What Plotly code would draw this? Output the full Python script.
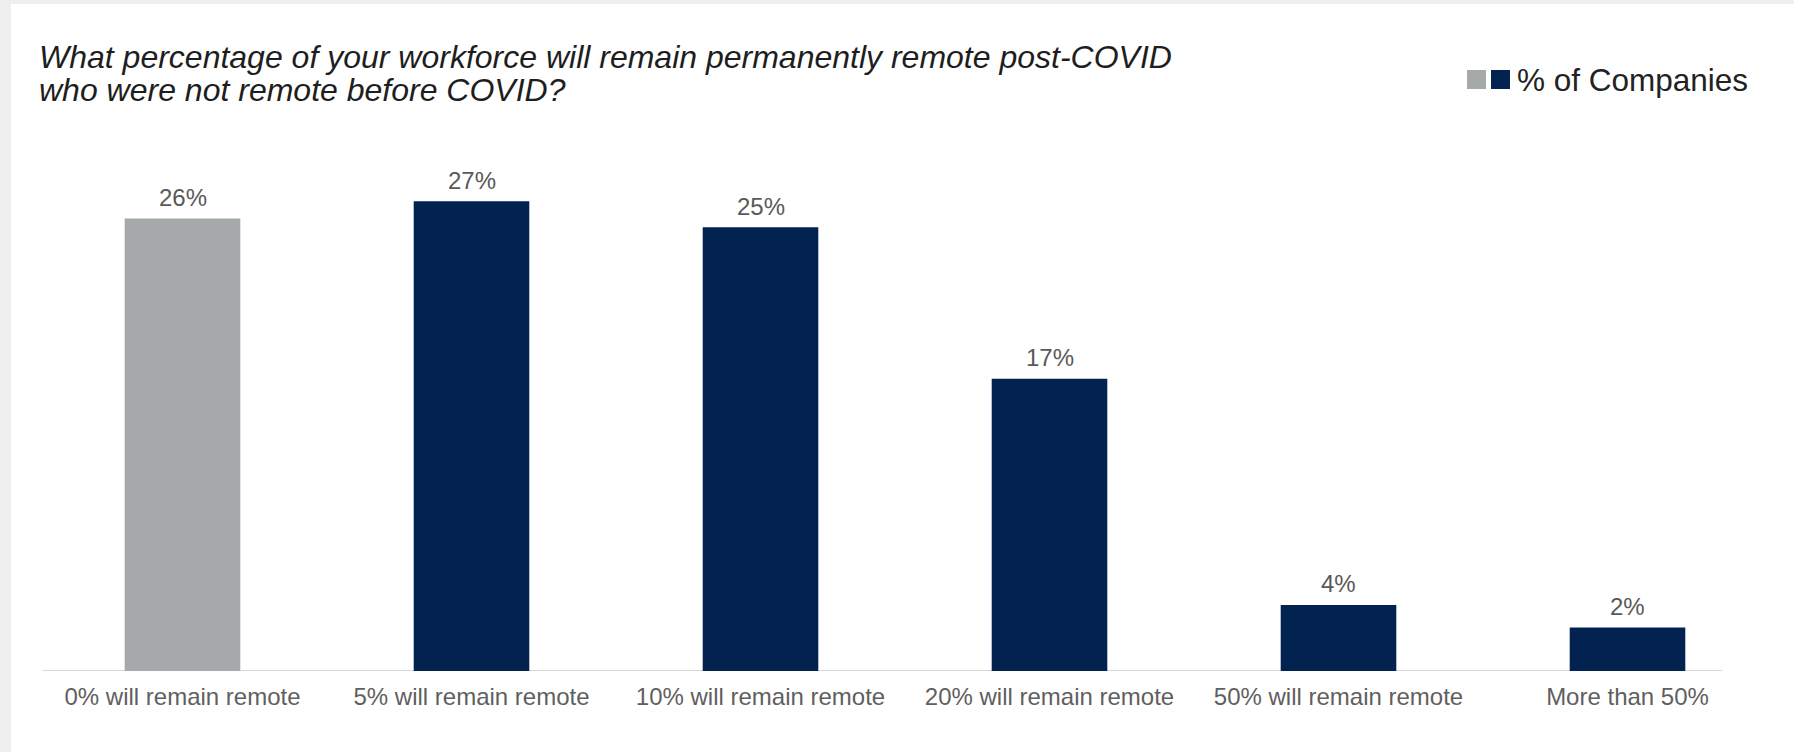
import plotly.graph_objects as go

categories = ["0% will remain remote", "5% will remain remote", "10% will remain remote",
              "20% will remain remote", "50% will remain remote", "More than 50%"]
values = [26, 27, 25.5, 16.8, 3.8, 2.5]
value_labels = ["26%", "27%", "25%", "17%", "4%", "2%"]
bar_colors = ["#a6a9aa", "#022350", "#022350", "#022350", "#022350", "#022350"]
legend_label = "% of Companies"
title_lines = ["What percentage of your workforce will remain permanently remote post-COVID",
               "who were not remote before COVID?"]

W, H = 1794, 752
L, R, T, B = 38, 22, 149, 81
PW, PH = W - L - R, H - T - B
FONT = "Liberation Sans, Arial, Helvetica, sans-serif"

def px(x):
    return (x - L) / PW

def py(y):
    return (H - B - y) / PH

fig = go.Figure()
fig.add_trace(go.Bar(
    x=categories, y=values,
    marker=dict(color=bar_colors, line=dict(width=0)),
    width=0.4,
    showlegend=False,
    hovertext=value_labels, hoverinfo="x+text",
))

shapes = [
    # grey frame strips
    dict(type="rect", xref="paper", yref="paper", x0=px(0), x1=px(11), y0=py(0), y1=py(H),
         fillcolor="#efefef", line=dict(width=0), layer="below"),
    dict(type="rect", xref="paper", yref="paper", x0=px(0), x1=px(W), y0=py(0), y1=py(4),
         fillcolor="#efefef", line=dict(width=0), layer="below"),
    # category axis baseline
    dict(type="line", xref="paper", yref="y", x0=px(42), x1=px(1722), y0=0, y1=0,
         line=dict(color="#d9d9d9", width=2), layer="below"),
    # legend squares
    dict(type="rect", xref="paper", yref="paper", x0=px(1467), x1=px(1486), y0=py(89), y1=py(70),
         fillcolor=bar_colors[0], line=dict(width=0)),
    dict(type="rect", xref="paper", yref="paper", x0=px(1491), x1=px(1510), y0=py(89), y1=py(70),
         fillcolor=bar_colors[1], line=dict(width=0)),
]

annotations = [dict(text=legend_label, xref="paper", yref="paper", x=px(1515), y=py(80),
                    xanchor="left", yanchor="middle", showarrow=False,
                    font=dict(family=FONT, size=31.5, color="#222222"))]

title_y = [57, 90]
for line, yy in zip(title_lines, title_y):
    annotations.append(dict(text="<i>" + line + "</i>", xref="paper", yref="paper",
                            x=px(37), y=py(yy), xanchor="left", yanchor="middle",
                            showarrow=False,
                            font=dict(family=FONT, size=32, color="#1e1e1e")))

for cat, val, lab in zip(categories, values, value_labels):
    annotations.append(dict(text=lab, x=cat, y=val, xref="x", yref="y",
                            yanchor="middle", yshift=21, showarrow=False,
                            font=dict(family=FONT, size=24, color="#595959")))

fig.update_layout(
    width=W, height=H,
    margin=dict(l=L, r=R, t=T, b=B),
    paper_bgcolor="white", plot_bgcolor="white",
    font=dict(family=FONT),
    bargap=0.6,
    shapes=shapes,
    annotations=annotations,
    xaxis=dict(showline=False, ticks="",
               tickfont=dict(family=FONT, size=24, color="#5f5f5f"),
               ticklabelstandoff=9, showgrid=False, fixedrange=True),
    yaxis=dict(range=[0, 30], visible=False, showgrid=False, zeroline=False, fixedrange=True),
)

fig.write_html("out.html", config={"displayModeBar": False},
               post_script="document.body.style.margin='0';document.body.style.overflow='hidden';")
